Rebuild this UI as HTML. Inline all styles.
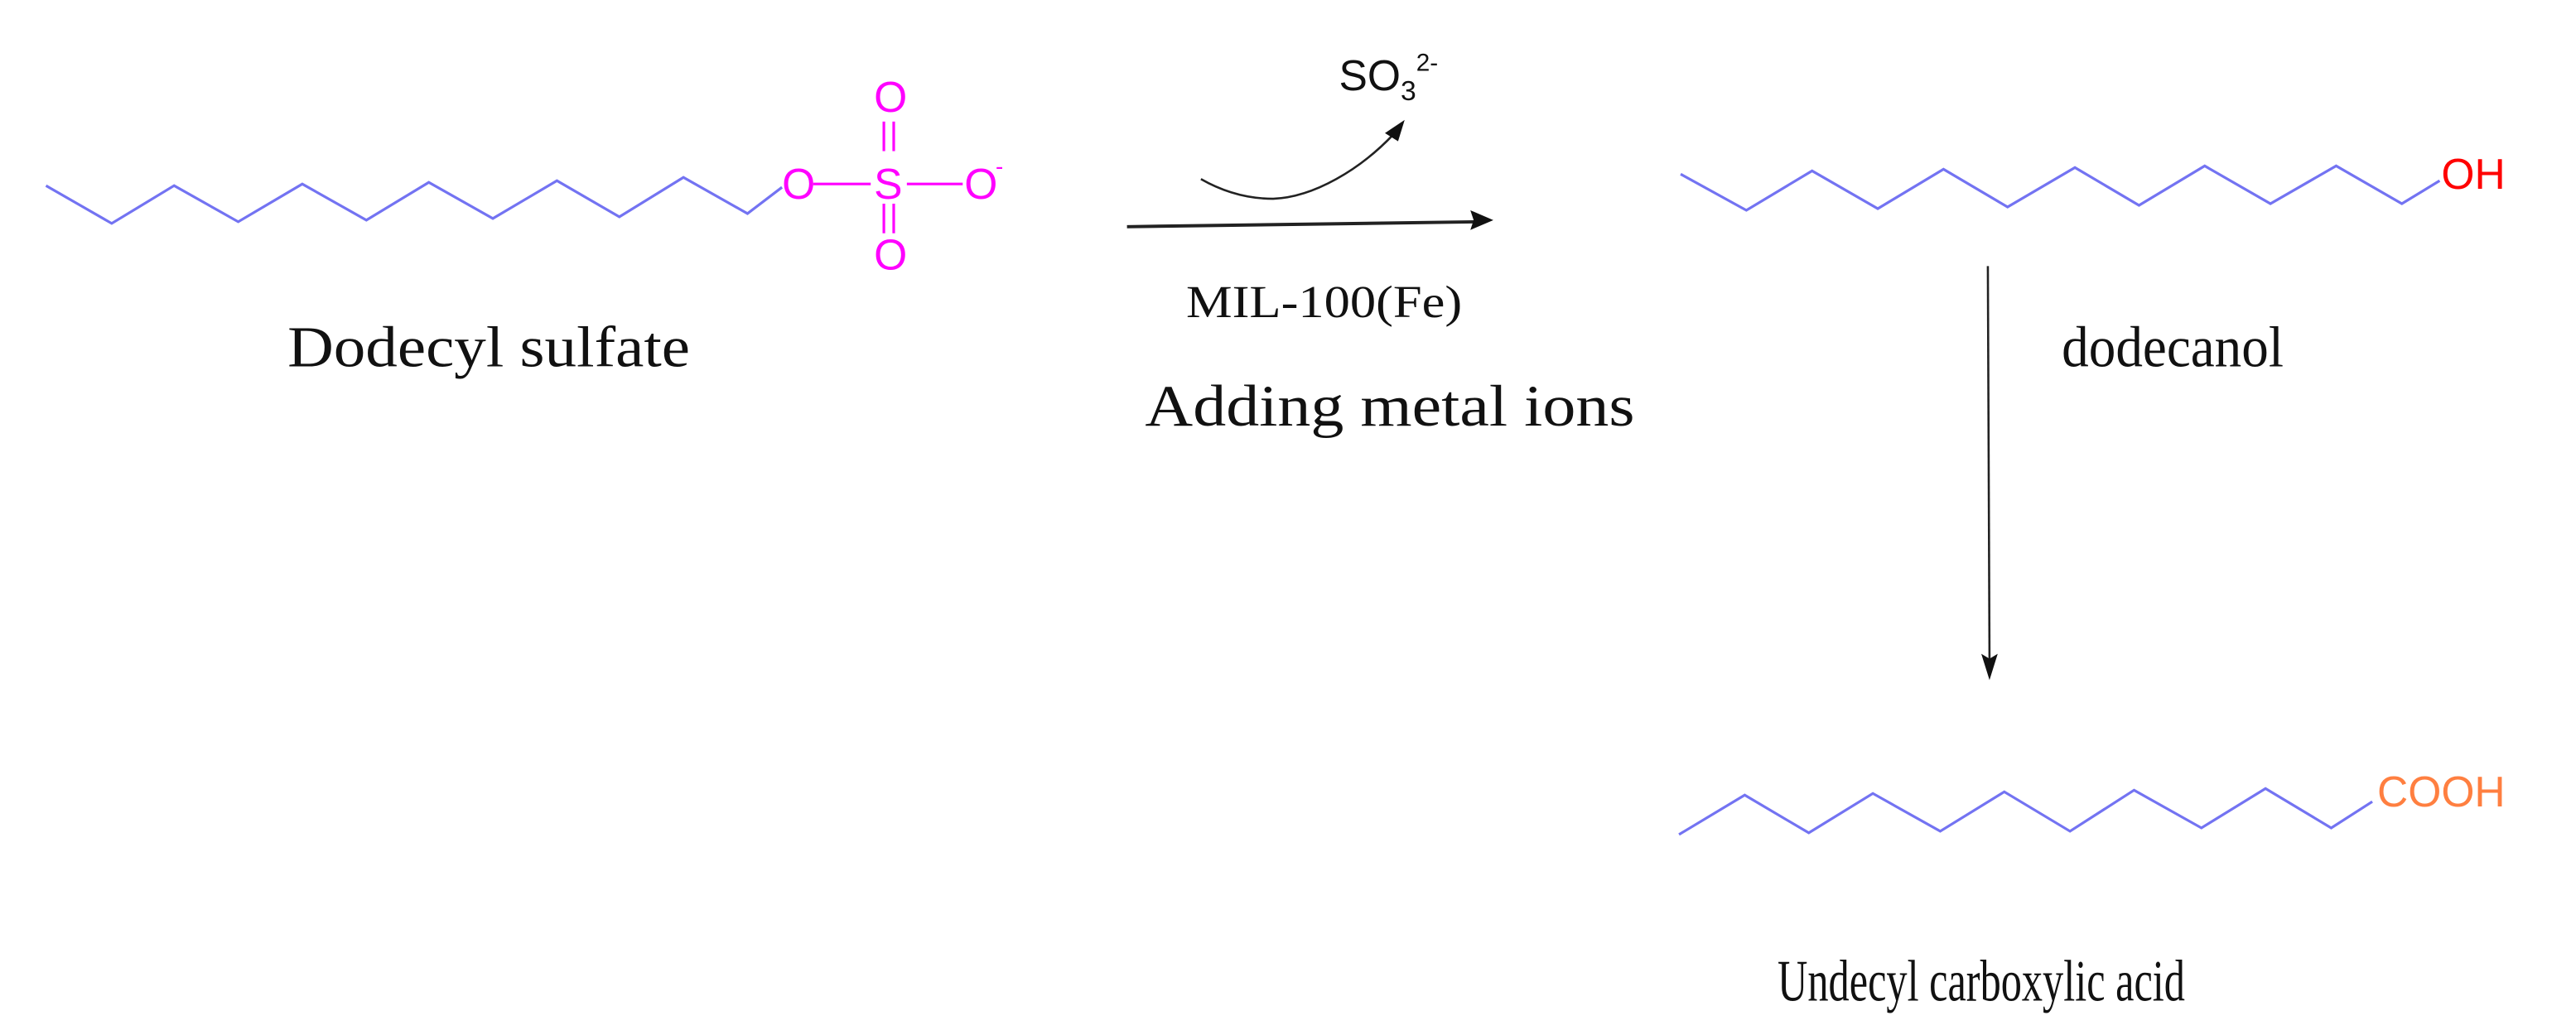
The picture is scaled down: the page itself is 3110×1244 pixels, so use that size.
<!DOCTYPE html>
<html><head><meta charset="utf-8"><style>html,body{margin:0;padding:0;background:#fff}svg{display:block}</style></head>
<body>
<svg width="3110" height="1244" viewBox="0 0 1568 627" preserveAspectRatio="none" xmlns="http://www.w3.org/2000/svg">
<g fill="none" stroke="#7373f2" stroke-width="1.6" stroke-linejoin="miter">
<polyline points="28,113 68,136 106,113 145,135 184,112 223,134 261,111 300,133 339,110 377,132 416,108 455,130 476,114"/>
<polyline points="1023,106 1063,128 1103,104 1143,127 1183,103 1222,126 1263,102 1302,125 1342,101 1382,124 1422,101 1462,124 1485,110"/>
<polyline points="1022,508 1062,484 1101,507 1140,483 1181,506 1220,482 1260,506 1299,481 1340,504 1379,480 1419,504 1444,488"/>
</g>
<g font-family="Liberation Sans, sans-serif" font-size="26">
<text x="476" y="121" fill="#ff00ff">O</text>
<text x="532" y="121" fill="#ff00ff">S</text>
<text x="587" y="121" fill="#ff00ff">O</text>
<text x="606" y="106" fill="#ff00ff" font-size="14">-</text>
<text x="532" y="68" fill="#ff00ff">O</text>
<text x="532" y="164" fill="#ff00ff">O</text>
<text x="1486" y="115" fill="#ff0000">OH</text>
<text x="1447" y="491" fill="#ff7f40">COOH</text>
<text x="815" y="55" fill="#111">SO<tspan font-size="17" dy="6">3</tspan><tspan font-size="15" dy="-18">2-</tspan></text>
</g>
<g stroke="#ff00ff" stroke-width="1.6">
<line x1="495" y1="112" x2="530" y2="112"/>
<line x1="552" y1="112" x2="586" y2="112"/>
<line x1="538" y1="74" x2="538" y2="92"/><line x1="544" y1="74" x2="544" y2="92"/>
<line x1="538" y1="124" x2="538" y2="142"/><line x1="544" y1="124" x2="544" y2="142"/>
</g>
<g stroke="#222" fill="none">
<line x1="686" y1="138" x2="900" y2="135" stroke-width="2"/>
<path d="M731,109 C745,117 760,121 775,121 C800,120 828,103 848,82" stroke-width="1.3"/>
<line x1="1210" y1="162" x2="1211" y2="402" stroke-width="1.3"/>
</g>
<g fill="#111">
<polygon points="909,134 895,128 897,134 895,140"/>
<polygon points="855,73 843,81 851,86"/>
<polygon points="1211,414 1206,398 1211,401 1216,398"/>
</g>
<g font-family="Liberation Serif, serif" fill="#111">
<text x="175" y="223" font-size="35" textLength="245" lengthAdjust="spacingAndGlyphs">Dodecyl sulfate</text>
<text x="722" y="193" font-size="28" textLength="168" lengthAdjust="spacingAndGlyphs">MIL-100(Fe)</text>
<text x="697" y="259" font-size="36" textLength="298" lengthAdjust="spacingAndGlyphs">Adding metal ions</text>
<text x="1255" y="223" font-size="35" textLength="135" lengthAdjust="spacingAndGlyphs">dodecanol</text>
<text x="1082" y="609" font-size="36" textLength="248" lengthAdjust="spacingAndGlyphs">Undecyl carboxylic acid</text>
</g>
</svg>
</body></html>
